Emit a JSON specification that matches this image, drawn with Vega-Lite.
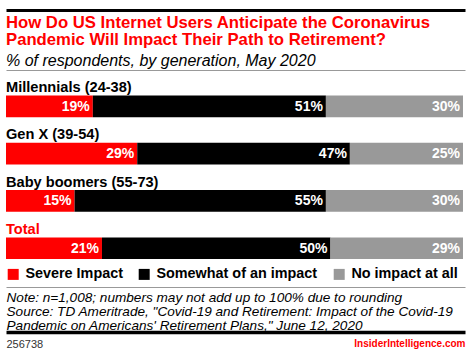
{
  "$schema": "https://vega.github.io/schema/vega-lite/v6.json",
  "autosize": {"type": "none"},
  "width": 459,
  "height": 217,
  "padding": {"left": 6, "right": 5, "top": 70, "bottom": 70},
  "background": "white",
  "title": {
    "text": ["How Do US Internet Users Anticipate the Coronavirus", "Pandemic Will Impact Their Path to Retirement?"],
    "subtitle": "% of respondents, by generation, May 2020",
    "anchor": "start",
    "frame": "group",
    "offset": -59,
    "color": "#ff0000",
    "font": "Liberation Sans",
    "fontSize": 16.7,
    "fontWeight": "bold",
    "lineHeight": 17.5,
    "subtitleColor": "#000000",
    "subtitleFont": "Liberation Sans",
    "subtitleFontSize": 16,
    "subtitleFontStyle": "italic",
    "subtitlePadding": 4
  },
  "datasets": {
    "shares": [
      {"group": "Millennials (24-38)", "impact": "Severe Impact", "rank": 1, "share": 0.19},
      {"group": "Millennials (24-38)", "impact": "Somewhat of an impact", "rank": 2, "share": 0.51},
      {"group": "Millennials (24-38)", "impact": "No impact at all", "rank": 3, "share": 0.30},
      {"group": "Gen X (39-54)", "impact": "Severe Impact", "rank": 1, "share": 0.29},
      {"group": "Gen X (39-54)", "impact": "Somewhat of an impact", "rank": 2, "share": 0.47},
      {"group": "Gen X (39-54)", "impact": "No impact at all", "rank": 3, "share": 0.25},
      {"group": "Baby boomers (55-73)", "impact": "Severe Impact", "rank": 1, "share": 0.15},
      {"group": "Baby boomers (55-73)", "impact": "Somewhat of an impact", "rank": 2, "share": 0.55},
      {"group": "Baby boomers (55-73)", "impact": "No impact at all", "rank": 3, "share": 0.30},
      {"group": "Total", "impact": "Severe Impact", "rank": 1, "share": 0.21},
      {"group": "Total", "impact": "Somewhat of an impact", "rank": 2, "share": 0.50},
      {"group": "Total", "impact": "No impact at all", "rank": 3, "share": 0.29}
    ],
    "groups": [
      {"group": "Millennials (24-38)"},
      {"group": "Gen X (39-54)"},
      {"group": "Baby boomers (55-73)"},
      {"group": "Total"}
    ]
  },
  "config": {
    "font": "Liberation Sans",
    "view": {"stroke": null},
    "axis": {"grid": false, "ticks": false, "labels": false}
  },
  "resolve": {"axis": {"x": "independent"}},
  "layer": [
    {
      "data": {"name": "shares"},
      "mark": {"type": "bar", "height": 21.7, "yOffset": 4.2},
      "encoding": {
        "y": {
          "field": "group", "type": "nominal",
          "sort": ["Millennials (24-38)", "Gen X (39-54)", "Baby boomers (55-73)", "Total"],
          "axis": null,
          "scale": {"paddingInner": 0, "paddingOuter": 0.294, "align": 0.306}
        },
        "x": {
          "field": "share", "type": "quantitative", "stack": "normalize",
          "scale": {"domain": [0, 1.0044], "nice": false},
          "axis": {
            "orient": "bottom", "domain": true, "domainColor": "#999999", "domainWidth": 1,
            "labels": false, "ticks": false, "grid": false,
            "title": ["Note: n=1,008; numbers may not add up to 100% due to rounding", "Source: TD Ameritrade, \"Covid-19 and Retirement: Impact of the Covid-19", "Pandemic on Americans' Retirement Plans,\" June 12, 2020"],
            "titleAnchor": "start", "titleAlign": "left", "titleBaseline": "top",
            "titleFont": "Liberation Sans", "titleFontStyle": "italic", "titleFontWeight": "normal",
            "titleFontSize": 13.6, "titleLineHeight": 14, "titlePadding": 3, "titleColor": "#000000"
          }
        },
        "order": {"field": "rank", "type": "quantitative"},
        "color": {
          "field": "impact", "type": "nominal",
          "scale": {"domain": ["Severe Impact", "Somewhat of an impact", "No impact at all"], "range": ["#ff0000", "#000000", "#999999"]},
          "legend": {
            "orient": "none", "legendX": 0, "legendY": 197, "direction": "horizontal", "title": null,
            "symbolType": "square", "symbolSize": 121, "symbolStrokeWidth": 0, "symbolOpacity": 1,
            "labelFont": "Liberation Sans", "labelFontSize": 14.4, "labelFontWeight": "bold", "labelColor": "#000000",
            "labelOffset": 5, "columnPadding": 14, "padding": 0, "labelLimit": 300
          }
        }
      }
    },
    {
      "data": {"name": "shares"},
      "mark": {"type": "text", "align": "right", "baseline": "middle", "dx": -3, "yOffset": 4.7, "fontSize": 14, "fontWeight": "bold", "color": "#ffffff", "font": "Liberation Sans"},
      "encoding": {
        "y": {"field": "group", "type": "nominal", "sort": ["Millennials (24-38)", "Gen X (39-54)", "Baby boomers (55-73)", "Total"], "axis": null},
        "x": {
          "field": "share", "type": "quantitative", "stack": "normalize",
          "axis": {
            "orient": "bottom", "offset": 45, "domain": true, "domainColor": "#000000", "domainWidth": 3.5,
            "ticks": false, "grid": false, "labels": true, "values": [0, 1.0044],
            "labelExpr": "datum.value < 0.5 ? '256738' : 'InsiderIntelligence.com'",
            "labelFlush": true, "labelFlushOffset": 0, "labelPadding": 6, "labelBaseline": "top", "labelFont": "Liberation Sans",
            "labelFontSize": {"condition": {"test": "datum.value > 0.5", "value": 10}, "value": 11},
            "labelFontWeight": {"condition": {"test": "datum.value > 0.5", "value": "bold"}, "value": "normal"},
            "labelColor": {"condition": {"test": "datum.value > 0.5", "value": "#ff0000"}, "value": "#333333"},
            "title": null
          }
        },
        "detail": {"field": "impact"},
        "order": {"field": "rank", "type": "quantitative"},
        "text": {"field": "share", "type": "quantitative", "format": ".0%"}
      }
    },
    {
      "data": {"name": "groups"},
      "mark": {"type": "text", "align": "left", "baseline": "alphabetic", "dy": 13.5, "fontSize": 14.6, "fontWeight": "bold", "font": "Liberation Sans"},
      "encoding": {
        "y": {"field": "group", "type": "nominal", "sort": ["Millennials (24-38)", "Gen X (39-54)", "Baby boomers (55-73)", "Total"], "bandPosition": 0, "axis": null},
        "x": {
          "datum": 0, "type": "quantitative",
          "axis": {"orient": "top", "offset": 60, "domain": true, "domainColor": "#000000", "domainWidth": 3, "labels": false, "ticks": false, "grid": false, "title": null}
        },
        "text": {"field": "group", "type": "nominal"},
        "color": {"condition": {"test": "datum.group === 'Total'", "value": "#ff0000"}, "value": "#000000"}
      }
    },
    {
      "data": {"name": "groups"},
      "mark": {"type": "rule", "strokeOpacity": 0, "strokeWidth": 0},
      "encoding": {
        "x": {
          "datum": 0.5, "type": "quantitative",
          "axis": {"orient": "top", "domain": true, "domainColor": "#999999", "domainWidth": 1, "labels": false, "ticks": false, "grid": false, "title": null}
        }
      }
    }
  ]
}
